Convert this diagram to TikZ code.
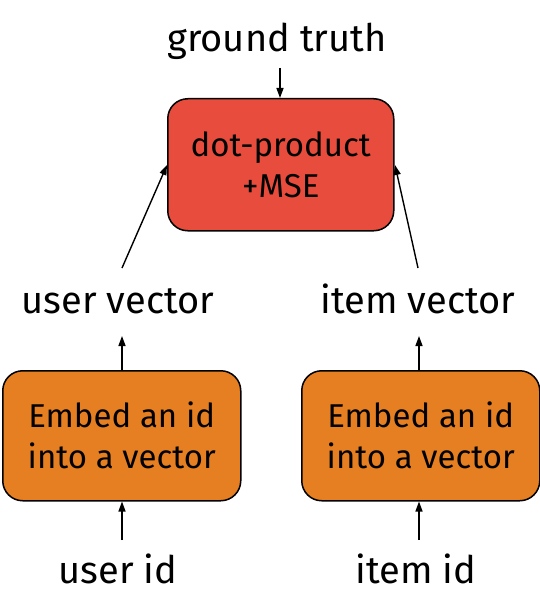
\documentclass[tikz,border=0pt]{standalone}
\usepackage{fontspec}
\setmainfont{Fira Sans}
\usetikzlibrary{arrows.meta}
\definecolor{redbox}{HTML}{E74C3C}
\definecolor{orangebox}{HTML}{E67E22}
\begin{document}
\begin{tikzpicture}[x=1pt,y=-1pt,
  lbl/.style={inner sep=0pt, anchor=base, font=\fontsize{38}{46}\selectfont},
  boxstyle/.style={draw=black, line width=1.5pt, rounded corners=20pt, align=center, anchor=north west, inner sep=0pt, font=\fontsize{33}{41}\selectfont},
  arr/.style={-{Triangle[length=10pt,width=7pt]}, line width=1.4pt}]
\useasboundingbox (0,0) rectangle (539,615);
\node[boxstyle, fill=redbox, minimum width=226pt, minimum height=132pt] (dp) at (167,98) {dot-product\\+MSE};
\node[boxstyle, fill=orangebox, minimum width=238pt, minimum height=130pt] (eu) at (2,370) {Embed an id\\into a vector};
\node[boxstyle, fill=orangebox, minimum width=238pt, minimum height=130pt] (ei) at (301,370) {Embed an id\\into a vector};
\node[lbl] (gt) at (277,52) {ground truth};
\node[lbl] (uv) at (118,313) {user vector};
\node[lbl] (iv) at (418,313) {item vector};
\node[lbl] (ui) at (118,583) {user id};
\node[lbl] (ii) at (416,583) {item id};
\coordinate (gts) at (280,68);
\coordinate (uvs) at (122,268);
\coordinate (ivs) at (418,268);
\draw[arr] (gts) -- (dp.north -| gts);
\draw[arr] (uvs) -- (167,165);
\draw[arr] (ivs) -- (395,165);
\draw[arr] (eu.north -| uvs) -- (122,336);
\draw[arr] (ei.north -| 419,0) -- (419,336);
\draw[arr] (122,540) -- (eu.south -| 122,0);
\draw[arr] (419,540) -- (ei.south -| 419,0);
\end{tikzpicture}
\end{document}
